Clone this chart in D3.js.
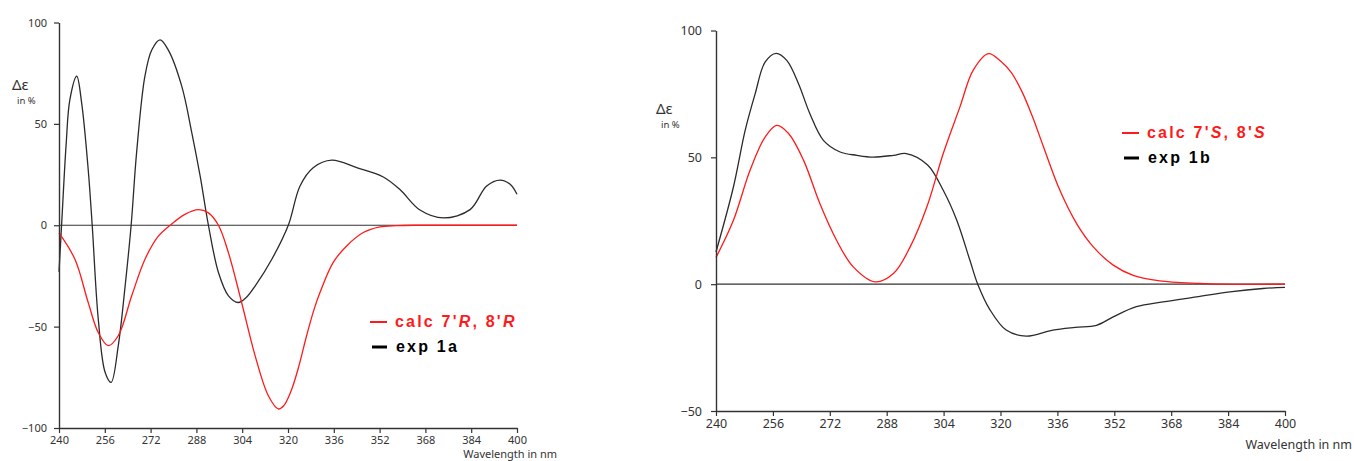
<!DOCTYPE html>
<html>
<head>
<meta charset="utf-8">
<script src="https://cdn.jsdelivr.net/npm/d3@7"></script>
<style>
  body { margin: 0; background: #fff; }
  svg { display: block; }
  .tick text { fill: #333; }
  .legend { font-family: "Liberation Sans", Arial, sans-serif; font-weight: bold; font-size: 16px; letter-spacing: 2.2px; }
</style>
</head>
<body>
<svg id="chart" width="1354" height="461"></svg>
<script>
// wavelength (nm) and delta epsilon (%)
const wavelengthTicks = [240, 256, 272, 288, 304, 320, 336, 352, 368, 384, 400];
const leftYTicks = [-100, -50, 0, 50, 100];
const rightYTicks = [-50, 0, 50, 100];

const exp1a = [
    [240, -23], [240.9, 0], [242.5, 40], [243.8, 62], [246.2, 73.5], [247.9, 60.5],
    [250.2, 27.5], [251.6, 0], [253.7, -46], [256.1, -72.5], [258.2, -77.5], [260.7, -59.5],
    [263.1, -30], [265.2, 0], [267.1, 35.7], [270, 73.4], [272.4, 86.4], [275.3, 91.4],
    [278.2, 86.4], [282.9, 68.5], [286.4, 45.6], [289.3, 24.3], [292.2, 0], [295.7, -23.3],
    [299.2, -34.8], [302.6, -38.1], [305.5, -35.5], [308.5, -30], [314.3, -16.9], [320.1, 0],
    [324.2, 19.4], [328.8, 28.4], [335.3, 32.1], [344, 28.4], [353.3, 23.8], [359.1, 17.6],
    [366.1, 7.5], [374.3, 3.6], [383.6, 7.7], [389.4, 19.4], [394.1, 22.3], [397.6, 20.2],
    [400, 15.3]
];

const calc7R8R = [
    [240, -3.8], [245.6, -16.9], [250.2, -38.1], [253.7, -52.9], [257.2, -59.4], [260.7, -54.5],
    [265.4, -34.8], [270, -16.9], [274.7, -5.4], [278.8, 0], [284, 5.4], [288.7, 7.7],
    [292.2, 6.1], [295.7, 0], [299.2, -13.6], [303.8, -38.1], [308.5, -64.3], [313.1, -84],
    [316.6, -90.6], [318.5, -89], [321, -82], [323.5, -71], [326.5, -54.5], [329, -42],
    [331.2, -33.1], [335.8, -18.3], [340.5, -10.2], [346.3, -3.6], [352.1, -0.8], [358, -0.2],
    [364, 0], [380, 0], [400, 0]
];

const exp1b = [
    [240, 12.7], [244.9, 38.3], [248.2, 60.6], [251, 75], [253.8, 87.5], [256.9, 91],
    [259.9, 88.2], [263.2, 79], [266.4, 67.2], [270.2, 56.7], [274.9, 52.1], [279.6, 50.8],
    [284.2, 50.1], [289.9, 50.8], [293.5, 51.5], [299.5, 47], [303.9, 37], [307.7, 25.2],
    [311.4, 9.4], [313.6, 0], [317, -10], [321.6, -18.1], [327.2, -20.5], [334.7, -18.1],
    [341, -17], [347, -16.2], [351.7, -12.9], [358.2, -8.9], [365.7, -7], [375.1, -5],
    [384.5, -3], [393.8, -1.7], [400, -1.3]
];

const calc7S8S = [
    [240, 10.5], [244.9, 25.2], [249.6, 45], [253.8, 58], [257.1, 62.6], [260.4, 59.4],
    [264.6, 48.9], [269.2, 31.8], [273.9, 17.3], [278.6, 6.8], [284.7, 0.9], [289.9, 4.2],
    [294.6, 14.7], [299.3, 30.5], [303.9, 51.5], [308.6, 69.9], [312.3, 84.3], [316.6, 90.9],
    [320, 88], [323, 83.5], [326, 76], [329, 66], [332, 54.5], [336.7, 37], [341.4, 23.9],
    [346.1, 14.7], [351.7, 7.5], [357.3, 3.5], [364.8, 1.3], [376, 0.3], [382, 0], [400, 0]
];

let svg = d3.select("#chart");
svg.append("rect").attr("width", 1354).attr("height", 461).attr("fill", "#fff");

function drawPanel(p) {
    let x = d3.scaleLinear().domain([240, 400]).range(p.xRange);
    let y = d3.scaleLinear().domain(p.yDomain).range(p.yRange);
    let g = svg.append("g");
    let font = "'Noto Sans', 'Open Sans', sans-serif";

    // zero line
    g.append("line")
        .attr("x1", x(240)).attr("x2", x(400))
        .attr("y1", y(0)).attr("y2", y(0))
        .attr("stroke", "#333").attr("stroke-width", 1.2);

    let line = d3.line()
        .x(d => x(d[0]))
        .y(d => y(d[1]))
        .curve(d3.curveCatmullRom.alpha(0.5));

    g.append("path").datum(p.exp)
        .attr("d", line).attr("fill", "none")
        .attr("stroke", "#2b2b2b").attr("stroke-width", 1.3);

    g.append("path").datum(p.calc)
        .attr("d", line).attr("fill", "none")
        .attr("stroke", "#ff1a1a").attr("stroke-width", 1.3);

    let xAxis = g.append("g")
        .attr("transform", `translate(0,${p.yRange[0]})`)
        .call(d3.axisBottom(x).tickValues(wavelengthTicks).tickSize(5).tickSizeOuter(0).tickPadding(3).tickFormat(d3.format("d")));
    xAxis.selectAll("text").style("font-family", font).style("font-size", p.fontSize + "px");

    let yAxis = g.append("g")
        .attr("transform", `translate(${p.xRange[0]},0)`)
        .call(d3.axisLeft(y).tickValues(p.yTicks).tickSize(5).tickSizeOuter(0).tickPadding(p.yPad));
    yAxis.selectAll("text").style("font-family", font).style("font-size", p.fontSize + "px");

    [xAxis, yAxis].forEach(a => {
        a.select(".domain").attr("stroke", "#333").attr("stroke-width", 1.4);
        a.selectAll(".tick line").attr("stroke", "#333").attr("stroke-width", 1.2);
    });

    // axis titles
    g.append("text")
        .attr("x", p.dLabel[0]).attr("y", p.dLabel[1])
        .style("font-family", font).style("font-size", "15px").attr("fill", "#333")
        .text("Δε");
    g.append("text")
        .attr("x", p.dLabel[0] + 5).attr("y", p.dLabel[1] + 14)
        .style("font-family", font).style("font-size", "9.5px").attr("fill", "#333")
        .text("in %");
    g.append("text")
        .attr("x", p.wLabel[0]).attr("y", p.wLabel[1])
        .attr("text-anchor", "end")
        .style("font-family", font).style("font-size", p.wSize + "px").attr("fill", "#333")
        .text("Wavelength in nm");

    // legend
    let lg = g.append("g").attr("class", "legend");
    lg.append("line")
        .attr("x1", p.legend[0]).attr("x2", p.legend[0] + 17)
        .attr("y1", p.legend[1] - 5).attr("y2", p.legend[1] - 5)
        .attr("stroke", "#ff1a1a").attr("stroke-width", 2);
    let t = lg.append("text").attr("x", p.legend[0] + 25).attr("y", p.legend[1]).attr("fill", "#ff1a1a");
    t.append("tspan").text("calc 7'");
    t.append("tspan").style("font-style", "italic").text(p.conf);
    t.append("tspan").text(", 8'");
    t.append("tspan").style("font-style", "italic").text(p.conf);

    lg.append("line")
        .attr("x1", p.legend[0] + 2).attr("x2", p.legend[0] + 17)
        .attr("y1", p.legend[1] + 20).attr("y2", p.legend[1] + 20)
        .attr("stroke", "#000").attr("stroke-width", 3);
    lg.append("text").attr("x", p.legend[0] + 26).attr("y", p.legend[1] + 25)
        .attr("fill", "#000").text(p.expName);
}

drawPanel({
    xRange: [59, 517], yDomain: [-100, 100], yRange: [428, 22.5],
    yTicks: leftYTicks, yPad: 7, fontSize: 11,
    exp: exp1a, calc: calc7R8R,
    dLabel: [12, 90], wLabel: [557, 458], wSize: 11,
    legend: [370, 327], conf: "R", expName: "exp 1a"
});

drawPanel({
    xRange: [716, 1285], yDomain: [-50, 100], yRange: [411, 30.5],
    yTicks: rightYTicks, yPad: 9, fontSize: 12.5,
    exp: exp1b, calc: calc7S8S,
    dLabel: [656, 114], wLabel: [1352, 449], wSize: 12.5,
    legend: [1122, 138], conf: "S", expName: "exp 1b"
});
</script>
</body>
</html>
